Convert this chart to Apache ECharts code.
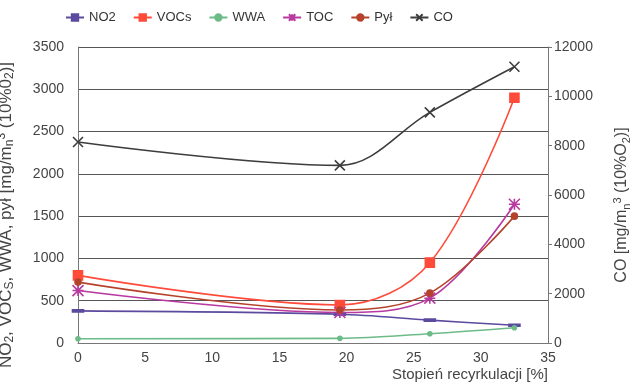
<!DOCTYPE html>
<html><head><meta charset="utf-8">
<script src="https://cdn.jsdelivr.net/npm/echarts@6/dist/echarts.min.js"></script>
<style>html,body{margin:0;padding:0;background:#fff}#c{width:635px;height:385px}</style>
</head><body><div id="c"></div>
<script>
const xVals = [0, 19.5, 26.2, 32.5];
const NO2 = [380, 340, 270, 210];
const VOCs = [800, 450, 950, 2900];
const WWA = [50, 55, 110, 180];
const TOC = [620, 360, 530, 1640];
const Pyl = [720, 390, 590, 1500];
const CO = [8150, 7200, 9350, 11200];
const xTicks = [0, 5, 10, 15, 20, 25, 30, 35];
const leftTicks = [0, 500, 1000, 1500, 2000, 2500, 3000, 3500];
const rightTicks = [0, 2000, 4000, 6000, 8000, 10000, 12000];

const FONT = "'Liberation Sans Narrow', 'Liberation Sans', Arial, sans-serif";
const xPath = 'path://M0,0L10,10M10,0L0,10';
const starPath = 'path://M0,0L10,10M10,0L0,10M5,0L5,10M0,5L10,5';
function pts(v){ return xVals.map((x,i)=>[x,v[i]]); }
function ser(name, data, color, symbol, size, yIdx){
  return {name, type:'line', smooth:0.35, yAxisIndex:yIdx||0, data:pts(data),
    symbol, symbolSize:size, showSymbol:true,
    lineStyle:{color, width:1.6}, itemStyle:{color, borderColor:color, borderWidth:1.6}};
}
function rich(fs){ return {
  a:{fontSize:fs, color:'#444', fontFamily:FONT, lineHeight:20, verticalAlign:'middle'},
  s:{fontSize:fs-5, color:'#444', fontFamily:FONT, verticalAlign:'bottom', lineHeight:12},
  p:{fontSize:fs-5, color:'#444', fontFamily:FONT, verticalAlign:'top', lineHeight:12}
};}
const chart = echarts.init(document.getElementById('c'));
chart.setOption({
  animation:false,
  textStyle:{fontFamily:FONT},
  legend:{top:6, left:60, itemGap:17, itemWidth:18, itemHeight:8,
    textStyle:{fontSize:13, color:'#333', fontFamily:FONT},
    data:['NO2','VOCs','WWA','TOC','Pył','CO']},
  grid:{left:78, right:87, top:47, bottom:42, containLabel:false, outerBoundsMode:'none'},
  xAxis:{type:'value', min:0, max:35, interval:5,
    axisLine:{lineStyle:{color:'#777'}}, axisTick:{show:false},
    splitLine:{show:false},
    axisLabel:{fontSize:14, color:'#444', margin:8, fontFamily:FONT},
    name:'Stopień recyrkulacji [%]', nameLocation:'end', nameGap:0,
    nameTextStyle:{fontSize:15, color:'#444', align:'right', verticalAlign:'top', padding:[24,0,0,0], fontFamily:FONT}},
  yAxis:[
    {type:'value', min:0, max:3500, interval:500, position:'left',
      axisLine:{show:true, lineStyle:{color:'#777'}}, axisTick:{show:false},
      splitLine:{lineStyle:{color:'#555', width:1}},
      axisLabel:{fontSize:14, color:'#444', margin:14, fontFamily:FONT, formatter:v=>String(v)},
      name:'{a|NO}{s|2}{a|, VOC}{s|S}{a|, WWA, pył [mg/m}{s|n}{p|3}{a| (10%0}{s|2}{a|)]}',
      nameLocation:'middle', nameGap:62,
      nameTextStyle:{fontSize:17, color:'#444', fontFamily:FONT, rich:rich(17), padding:[0,0,0,-40]}},
    {type:'value', min:0, max:12000, interval:2000, position:'right',
      axisLine:{show:true, lineStyle:{color:'#777'}},
      axisTick:{show:true, inside:false, length:4, lineStyle:{color:'#777'}},
      splitLine:{show:false},
      axisLabel:{fontSize:14, color:'#444', margin:6, fontFamily:FONT, formatter:v=>String(v)},
      name:'{a|CO [mg/m}{s|n}{p|3}{a| (10%O}{s|2}{a|)]}', nameLocation:'middle', nameGap:64, nameRotate:90,
      nameTextStyle:{fontSize:16, color:'#444', fontFamily:FONT, rich:rich(16), padding:[0,0,0,-20]}}
  ],
  series:[
    ser('NO2', NO2, '#5b4a9e', 'rect', [7,2]),
    ser('VOCs', VOCs, '#ff4b3a', 'rect', 9),
    ser('WWA', WWA, '#6cbb88', 'circle', 4),
    ser('TOC', TOC, '#b83aa0', starPath, 11),
    ser('Pył', Pyl, '#b5432c', 'circle', 6),
    ser('CO', CO, '#3d3d3d', xPath, 10, 1)
  ]
});
</script></body></html>
